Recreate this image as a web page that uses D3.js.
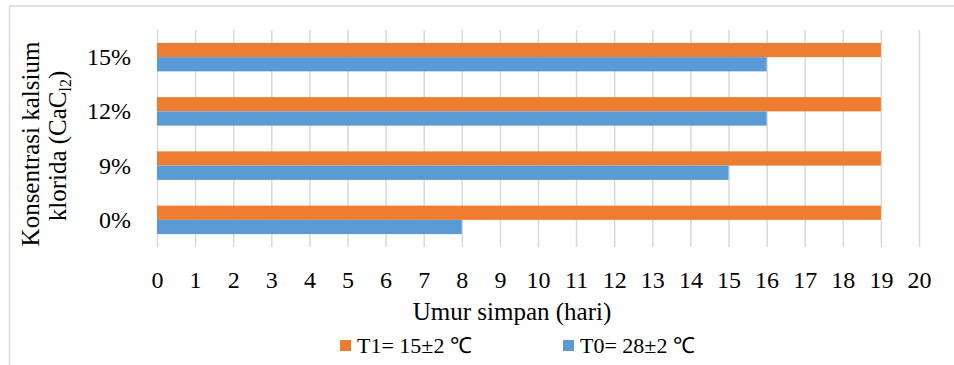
<!DOCTYPE html>
<html>
<head>
<meta charset="utf-8">
<script src="https://cdn.jsdelivr.net/npm/d3@7"></script>
<style>
  html, body { margin: 0; padding: 0; background: #fff; }
  svg { display: block; }
  text { font-family: "Liberation Serif", "Times New Roman", serif; fill: #000; }
</style>
</head>
<body>
<svg id="chart" width="954" height="365"></svg>
<script>
// ---- data ----
const categories = ["0%", "9%", "12%", "15%"];
const seriesNames = ["T1= 15\u00B12 \u2103", "T0= 28\u00B12 \u2103"];
const t1Values = [19, 19, 19, 19];
const t0Values = [8, 15, 16, 16];
const xTickValues = [0,1,2,3,4,5,6,7,8,9,10,11,12,13,14,15,16,17,18,19,20];
const xTitle = "Umur simpan (hari)";
const yTitleLine1 = "Konsentrasi kalsium";
const yTitleLine2a = "klorida (CaC";
const yTitleSub = "l2";
const yTitleLine2b = ")";

const colors = ["#ED7D31", "#5B9BD5"];

const svg = d3.select("#chart");

// chart border (top & left visible)
svg.append("line").attr("x1", 9.5).attr("x2", 954).attr("y1", 6).attr("y2", 6)
  .attr("stroke", "#d9d9d9").attr("stroke-width", 1.5);
svg.append("line").attr("x1", 9.5).attr("x2", 9.5).attr("y1", 6).attr("y2", 365)
  .attr("stroke", "#d9d9d9").attr("stroke-width", 1.5);

const plot = { left: 157, right: 919, top: 30, bottom: 247 };

const x = d3.scaleLinear().domain([0, 20]).range([plot.left, plot.right]);
const y = d3.scaleBand().domain(categories.slice().reverse())
  .range([plot.top, plot.bottom]).paddingInner(0.475).paddingOuter(0.2375);
const ySub = d3.scaleBand().domain([0, 1]).range([0, y.bandwidth()]);

// grid via axis
const xAxis = d3.axisBottom(x).tickValues(xTickValues)
  .tickSize(-(plot.bottom - plot.top)).tickFormat(d3.format("d"));
const gx = svg.append("g").attr("transform", `translate(0,${plot.bottom})`).call(xAxis);
gx.select(".domain").remove();
gx.selectAll(".tick line").attr("stroke", "#d9d9d9").attr("stroke-width", 1.5);
gx.selectAll(".tick text").attr("y", 41).attr("dy", 0)
  .style("font-size", "24px").style("font-family", "'Liberation Serif', serif").attr("fill", "#000");

// bars
const rows = categories.map((c, i) => ({ cat: c, vals: [t1Values[i], t0Values[i]] }));
const groups = svg.append("g").selectAll("g").data(rows).join("g")
  .attr("transform", d => `translate(0,${y(d.cat)})`);
groups.selectAll("rect").data(d => d.vals.map((v, k) => ({ v, k }))).join("rect")
  .attr("x", x(0))
  .attr("y", d => ySub(d.k))
  .attr("width", d => x(d.v) - x(0))
  .attr("height", ySub.bandwidth())
  .attr("fill", d => colors[d.k]);

// y axis labels
const yAxis = d3.axisLeft(y).tickSize(0).tickPadding(26);
const gy = svg.append("g").attr("transform", `translate(${plot.left},0)`).call(yAxis);
gy.select(".domain").remove();
gy.selectAll(".tick text").attr("dy", "0.33em")
  .style("font-size", "24px").style("font-family", "'Liberation Serif', serif").attr("fill", "#000");

// x title
svg.append("text").attr("x", 512).attr("y", 320).attr("text-anchor", "middle")
  .style("font-size", "25px").text(xTitle);

// y title (two lines, rotated)
const yt = svg.append("text").attr("transform", "translate(39,144) rotate(-90)")
  .attr("text-anchor", "middle").style("font-size", "25px");
yt.append("tspan").attr("x", 0).attr("y", 0).text(yTitleLine1);
const l2 = svg.append("text").attr("transform", "translate(66,146) rotate(-90)")
  .attr("text-anchor", "middle").style("font-size", "25px");
l2.append("tspan").text(yTitleLine2a);
l2.append("tspan").attr("dy", 5).style("font-size", "16px").text(yTitleSub);
l2.append("tspan").attr("dy", -5).text(yTitleLine2b);

// legend
const legendX = [340, 563];
const lg = svg.append("g").selectAll("g").data(seriesNames).join("g")
  .attr("transform", (d, i) => `translate(${legendX[i]},340)`);
lg.append("rect").attr("width", 11).attr("height", 11).attr("fill", (d, i) => colors[i]);
lg.append("text").attr("x", 17).attr("y", 12.5).style("font-size", "22px").text(d => d);
</script>
</body>
</html>
